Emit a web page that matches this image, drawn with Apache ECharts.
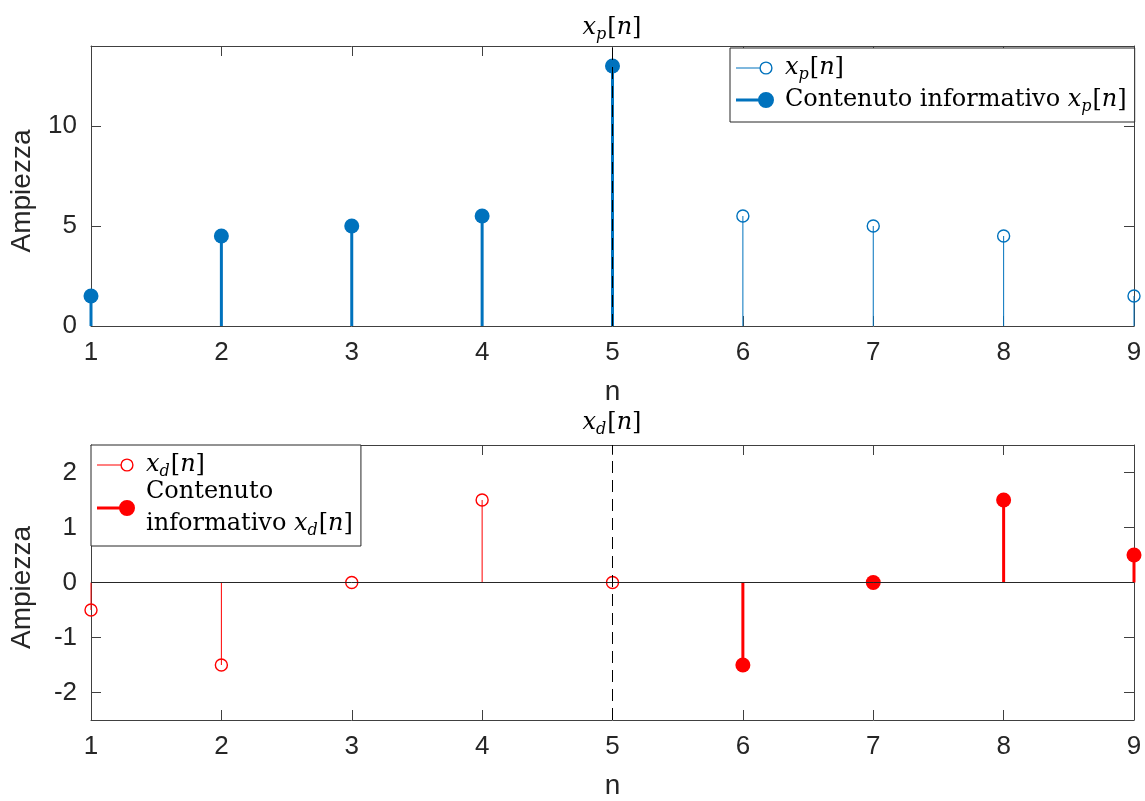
<!DOCTYPE html>
<html>
<head>
<meta charset="utf-8">
<script src="https://cdn.jsdelivr.net/npm/echarts@6/dist/echarts.min.js"></script>
<style>
  html, body { margin: 0; padding: 0; background: #fff; }
  #chart { width: 1145px; height: 801px; }
</style>
</head>
<body>
<div id="chart"></div>
<script>
// Sample indices and signal values
const nValues = [1, 2, 3, 4, 5, 6, 7, 8, 9];
const xpValues = [1.5, 4.5, 5, 5.5, 13, 5.5, 5, 4.5, 1.5];
const xpInfoN = [1, 2, 3, 4, 5];
const xpInfoValues = [1.5, 4.5, 5, 5.5, 13];
const xdValues = [-0.5, -1.5, 0, 1.5, 0, -1.5, 0, 1.5, 0.5];
const xdInfoN = [6, 7, 8, 9];
const xdInfoValues = [-1.5, 0, 1.5, 0.5];
const splitN = 5;            // dashed separator position
const xRange = [1, 9];
const xpRange = [0, 14];
const xdRange = [-2.5, 2.5];

const BLUE = '#0072BD';
const RED = '#FF0000';
const AXIS = '#404040';
const TEXT = '#262626';
const SANS = '"Liberation Sans", Arial, Helvetica, sans-serif';
const SERIF = '"DejaVu Serif", serif';

const pairs = (xs, ys) => xs.map((x, i) => [x, ys[i]]);

// Math-style rich text (italic variable, lowered subscript)
const rich = {
  i: { fontFamily: SERIF, fontStyle: 'italic', fontWeight: 'normal', fontSize: 24, lineHeight: 32, verticalAlign: 'middle', color: '#000' },
  s: { fontFamily: SERIF, fontStyle: 'italic', fontWeight: 'normal', fontSize: 16, lineHeight: 22, verticalAlign: 'middle', padding: [13, 1, 0, 0], color: '#000' },
  r: { fontFamily: SERIF, fontStyle: 'normal', fontWeight: 'normal', fontSize: 24, lineHeight: 32, verticalAlign: 'middle', color: '#000' }
};
const mathLabel = sub => '{i|x}{s|' + sub + '}{r|[}{i|n}{r|]}';

const legendText = {
  xp: mathLabel('p'),
  xpInfo: '{r|Contenuto informativo }' + mathLabel('p'),
  xd: mathLabel('d'),
  xdInfo: '{r|Contenuto}\n{r|informativo }' + mathLabel('d')
};

// Legend glyphs: stem line ending in a marker
const iconOpen = 'path://M0,0 L0.01,0 L0,0.01 Z M38,16 L37.99,16 L38,15.99 Z ' +
  'M0,7.5 L23.6,7.5 L23.6,8.5 L0,8.5 Z ' +
  'M23.4,8 A6.6,6.6 0 0,1 36.6,8 A6.6,6.6 0 0,1 23.4,8 Z ' +
  'M24.8,8 A5.2,5.2 0 0,0 35.2,8 A5.2,5.2 0 0,0 24.8,8 Z';
const iconFilled = 'path://M0,6.5 L24,6.5 L24,9.5 L0,9.5 Z ' +
  'M22,8 A8,8 0 0,1 38,8 A8,8 0 0,1 22,8 Z';

function stem(color, lineWidth, radius, filled) {
  return function (params, api) {
    const x = api.value(0), y = api.value(1);
    const base = api.coord([x, 0]);
    const tip = api.coord([x, y]);
    return {
      type: 'group',
      children: [
        { type: 'line', shape: { x1: base[0], y1: base[1], x2: tip[0], y2: tip[1] },
          style: { stroke: color, lineWidth: lineWidth } },
        { type: 'circle', shape: { cx: tip[0], cy: tip[1], r: radius },
          style: filled ? { fill: color } : { fill: 'none', stroke: color, lineWidth: 1.4 } }
      ]
    };
  };
}

const tickStyle = { show: true, inside: true, length: 10, lineStyle: { color: AXIS, width: 1 } };
const lineStyleAxis = { show: true, onZero: false, lineStyle: { color: AXIS, width: 1 } };
const labelStyle = { color: TEXT, fontFamily: SANS, fontSize: 26, margin: 14 };
const nameStyle = { color: TEXT, fontFamily: SANS, fontSize: 28 };

function xAxes(grid) {
  return [
    { gridIndex: grid, type: 'value', min: xRange[0], max: xRange[1], interval: 1, position: 'bottom',
      axisLine: lineStyleAxis, axisTick: tickStyle, axisLabel: labelStyle, splitLine: { show: false },
      name: 'n', nameLocation: 'middle', nameGap: 52, nameTextStyle: nameStyle },
    { gridIndex: grid, type: 'value', min: xRange[0], max: xRange[1], interval: 1, position: 'top',
      axisLine: lineStyleAxis, axisTick: tickStyle, axisLabel: { show: false }, splitLine: { show: false } }
  ];
}

function yAxes(grid, range, extra, fmt) {
  return [
    Object.assign({ gridIndex: grid, type: 'value', min: range[0], max: range[1], position: 'left',
      axisLine: lineStyleAxis, axisTick: tickStyle,
      axisLabel: Object.assign({}, labelStyle, { formatter: fmt }), splitLine: { show: false },
      name: 'Ampiezza', nameLocation: 'middle', nameGap: 55,
      nameTextStyle: Object.assign({}, nameStyle, { padding: [0, 10, 0, 0] }) }, extra),
    Object.assign({ gridIndex: grid, type: 'value', min: range[0], max: range[1], position: 'right',
      axisLine: lineStyleAxis, axisTick: tickStyle, axisLabel: { show: false }, splitLine: { show: false } }, extra)
  ];
}

const dashed = { color: '#000', width: 1, type: [12, 7] };

// Transparent text background makes each legend row take its full line height
const legendBase = {
  orient: 'vertical', itemWidth: 38, itemHeight: 16, selectedMode: false,
  borderColor: TEXT, borderWidth: 1, borderRadius: 0, backgroundColor: '#fff',
  formatter: name => legendText[name],
  textStyle: { rich: rich, padding: [0, 0, 0, 6], backgroundColor: 'rgba(255,255,255,0)' }
};

const option = {
  animation: false,
  backgroundColor: '#fff',
  title: [
    { text: mathLabel('p'), left: 612, top: 12, textAlign: 'center', padding: 0,
      textStyle: { fontWeight: 'normal', rich: rich } },
    { text: mathLabel('d'), left: 612, top: 407, textAlign: 'center', padding: 0,
      textStyle: { fontWeight: 'normal', rich: rich } }
  ],
  grid: [
    { left: 91, top: 46, width: 1043, height: 280 },
    { left: 91, top: 445, width: 1043, height: 278 }
  ],
  xAxis: xAxes(0).concat(xAxes(1)),
  yAxis: yAxes(0, xpRange, { interval: 5 }, v => (v % 5 === 0 ? String(v) : ''))
    .concat(yAxes(1, xdRange, { splitNumber: 5 }, v => (Number.isInteger(v) ? String(v) : ''))),
  legend: [
    Object.assign({}, legendBase, { left: 730, top: 48, padding: [4, 8, 6, 6], itemGap: 0,
      data: [{ name: 'xp', icon: iconOpen, itemStyle: { color: BLUE, borderWidth: 0 } },
             { name: 'xpInfo', icon: iconFilled, itemStyle: { color: BLUE, borderWidth: 0 } }] }),
    Object.assign({}, legendBase, { left: 91, top: 445, padding: [4, 8, 6, 6], itemGap: -5,
      data: [{ name: 'xd', icon: iconOpen, itemStyle: { color: RED, borderWidth: 0 } },
             { name: 'xdInfo', icon: iconFilled, itemStyle: { color: RED, borderWidth: 0 } }] })
  ],
  series: [
    { type: 'custom', name: 'xp', xAxisIndex: 0, yAxisIndex: 0, z: 2,
      itemStyle: { color: BLUE }, encode: { x: 0, y: 1 },
      data: pairs(nValues, xpValues), renderItem: stem(BLUE, 1, 6, false) },
    { type: 'custom', name: 'xpInfo', xAxisIndex: 0, yAxisIndex: 0, z: 3,
      itemStyle: { color: BLUE }, encode: { x: 0, y: 1 },
      data: pairs(xpInfoN, xpInfoValues), renderItem: stem(BLUE, 3, 7.5, true) },
    { type: 'line', xAxisIndex: 0, yAxisIndex: 0, z: 4, data: [],
      markLine: { silent: true, symbol: 'none', label: { show: false }, lineStyle: dashed,
        data: [{ xAxis: splitN }] } },

    { type: 'line', xAxisIndex: 2, yAxisIndex: 2, z: 1, data: [],
      markLine: { silent: true, symbol: 'none', label: { show: false },
        lineStyle: { color: TEXT, width: 1, type: 'solid' }, data: [{ yAxis: 0 }] } },
    { type: 'custom', name: 'xd', xAxisIndex: 2, yAxisIndex: 2, z: 2,
      itemStyle: { color: RED }, encode: { x: 0, y: 1 },
      data: pairs(nValues, xdValues), renderItem: stem(RED, 1, 6, false) },
    { type: 'custom', name: 'xdInfo', xAxisIndex: 2, yAxisIndex: 2, z: 3,
      itemStyle: { color: RED }, encode: { x: 0, y: 1 },
      data: pairs(xdInfoN, xdInfoValues), renderItem: stem(RED, 3, 7.5, true) },
    { type: 'line', xAxisIndex: 2, yAxisIndex: 2, z: 4, data: [],
      markLine: { silent: true, symbol: 'none', label: { show: false }, lineStyle: dashed,
        data: [{ xAxis: splitN }] } }
  ]
};

const chart = echarts.init(document.getElementById('chart'), null, { renderer: 'canvas' });
chart.setOption(option);
</script>
</body>
</html>
